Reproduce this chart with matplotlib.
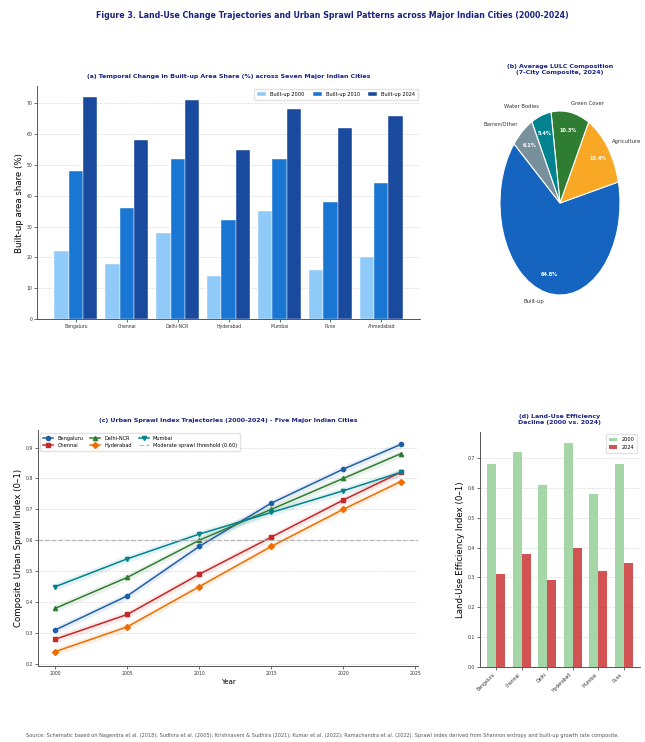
import matplotlib
matplotlib.use("Agg")
import matplotlib.pyplot as plt
import numpy as np

plt.rcParams['font.family'] = ['DejaVu Sans']
plt.rcParams['axes.unicode_minus'] = False

# ---- data -------------------------------------------------------------
cities_a = ['Bengaluru', 'Chennai', 'Delhi-NCR', 'Hyderabad', 'Mumbai', 'Pune', 'Ahmedabad']
builtup_2000 = [22, 18, 28, 14, 35, 16, 20]
builtup_2010 = [48, 36, 52, 32, 52, 38, 44]
builtup_2024 = [72, 58, 71, 55, 68, 62, 66]

lulc_classes = ['Built-up', 'Agriculture', 'Green Cover', 'Water Bodies', 'Barren/Other']
lulc_share = [64.8, 13.4, 10.3, 5.4, 6.1]

years = [2000, 2005, 2010, 2015, 2020, 2024]
sprawl_bengaluru = [0.31, 0.42, 0.58, 0.72, 0.83, 0.91]
sprawl_chennai = [0.28, 0.36, 0.49, 0.61, 0.73, 0.82]
sprawl_delhi = [0.38, 0.48, 0.60, 0.70, 0.80, 0.88]
sprawl_hyderabad = [0.24, 0.32, 0.45, 0.58, 0.70, 0.79]
sprawl_mumbai = [0.45, 0.54, 0.62, 0.69, 0.76, 0.82]
sprawl_threshold = 0.60

cities_d = ['Bengaluru', 'Chennai', 'Delhi', 'Hyderabad', 'Mumbai', 'Pune']
efficiency_2000 = [0.68, 0.72, 0.61, 0.75, 0.58, 0.68]
efficiency_2024 = [0.31, 0.38, 0.29, 0.40, 0.32, 0.35]

# ---- style ------------------------------------------------------------
NAVY = '#1A237E'
TICK = 3.3
TITLE = 4.5
LEG = 3.6

fig = plt.figure(figsize=(6.45, 7.42), dpi=100)
fig.suptitle('Figure 3. Land-Use Change Trajectories and Urban Sprawl Patterns across Major Indian Cities (2000-2024)',
             fontsize=5.7, fontweight='bold', color=NAVY, x=0.515, y=0.985)


def style_axes(ax):
    for s in ('top', 'right'):
        ax.spines[s].set_visible(False)
    for s in ('left', 'bottom'):
        ax.spines[s].set_color('#555555')
        ax.spines[s].set_linewidth(0.7)
    ax.tick_params(labelsize=TICK, length=2, width=0.5, colors='#333333', pad=1.5)
    ax.yaxis.grid(True, linestyle='--', linewidth=0.5, color='#CCCCCC', alpha=0.7)
    ax.set_axisbelow(True)


# ---- (a) built-up share bars -----------------------------------------
ax_a = fig.add_axes([0.0574, 0.570, 0.594, 0.314])
x = np.arange(len(cities_a))
w = 0.28
bar_cols = ['#90CAF9', '#1976D2', '#1A4A9E']
ax_a.bar(x - w, builtup_2000, w, color=bar_cols[0], edgecolor='white', linewidth=0.3, label='Built-up 2000')
ax_a.bar(x, builtup_2010, w, color=bar_cols[1], edgecolor='white', linewidth=0.3, label='Built-up 2010')
ax_a.bar(x + w, builtup_2024, w, color=bar_cols[2], edgecolor='white', linewidth=0.3, label='Built-up 2024')
ax_a.set_xticks(x)
ax_a.set_xticklabels(cities_a)
ax_a.set_yticks(np.arange(0, 71, 10))
ax_a.set_ylabel('Built-up area share (%)', fontsize=6.2, labelpad=2)
ax_a.set_title('(a) Temporal Change in Built-up Area Share (%) across Seven Major Indian Cities',
               fontsize=TITLE, fontweight='bold', color=NAVY, pad=6)
style_axes(ax_a)
ax_a.legend(loc='upper right', ncol=3, fontsize=LEG, frameon=True, framealpha=0.8,
            edgecolor='#DDDDDD', handlelength=1.8, columnspacing=1.6, borderpad=0.6)

# ---- (b) LULC composition pie ----------------------------------------
ax_b = fig.add_axes([0.7519, 0.5714, 0.2326, 0.3100])
pie_cols = ['#1565C0', '#F9A825', '#2E7D32', '#00838F', '#78909C']
wedges, texts, autotexts = ax_b.pie(
    lulc_share, labels=lulc_classes, colors=pie_cols, startangle=140,
    autopct='%1.1f%%', pctdistance=0.8, labeldistance=1.1,
    wedgeprops=dict(edgecolor='white', linewidth=0.8),
    textprops=dict(fontsize=3.8, color='#333333'))
for t in autotexts:
    t.set_color('white')
    t.set_fontweight('bold')
    t.set_fontsize(3.6)
ax_b.set_aspect('auto')
ax_b.set_title('(b) Average LULC Composition\n(7-City Composite, 2024)',
               fontsize=TITLE, fontweight='bold', color=NAVY, pad=10, linespacing=1.25)

# ---- (c) sprawl index trajectories -----------------------------------
ax_c = fig.add_axes([0.0589, 0.1024, 0.589, 0.318])
series = [
    ('Bengaluru', sprawl_bengaluru, '#1F5FA8', 'o'),
    ('Chennai', sprawl_chennai, '#C62828', 's'),
    ('Delhi-NCR', sprawl_delhi, '#2E7D32', '^'),
    ('Hyderabad', sprawl_hyderabad, '#EF6C00', 'D'),
    ('Mumbai', sprawl_mumbai, '#00838F', 'v'),
]
for name, vals, col, mk in series:
    vals = np.asarray(vals)
    ax_c.fill_between(years, vals - 0.012, vals + 0.012, color=col, alpha=0.1, linewidth=0)
    ax_c.plot(years, vals, color=col, marker=mk, markersize=3, linewidth=1.1, label=name)
ax_c.axhline(sprawl_threshold, color='#AAAAAA', linestyle='--', linewidth=0.9, alpha=0.8,
             label='Moderate sprawl threshold (0.60)')
ax_c.set_xticks(np.arange(2000, 2026, 5))
ax_c.set_xlabel('Year', fontsize=5.0, labelpad=2)
ax_c.set_ylabel('Composite Urban Sprawl Index (0\u20131)', fontsize=6.2, labelpad=2)
ax_c.set_title('(c) Urban Sprawl Index Trajectories (2000-2024) - Five Major Indian Cities',
               fontsize=TITLE, fontweight='bold', color=NAVY, pad=6)
style_axes(ax_c)
ax_c.legend(loc='upper left', ncol=3, fontsize=LEG, frameon=True, framealpha=0.8,
            edgecolor='#DDDDDD', handlelength=2.0, columnspacing=1.4, borderpad=0.6)

# ---- (d) land-use efficiency -----------------------------------------
ax_d = fig.add_axes([0.744, 0.1011, 0.248, 0.3167])
xd = np.arange(len(cities_d))
wd = 0.35
ax_d.bar(xd - wd / 2, efficiency_2000, wd, color='#A5D6A7', label='2000')
ax_d.bar(xd + wd / 2, efficiency_2024, wd, color='#C62828', alpha=0.8, label='2024')
ax_d.set_xticks(xd)
ax_d.set_xticklabels(cities_d, rotation=45, ha='right')
ax_d.set_yticks(np.arange(0, 0.71, 0.1))
ax_d.set_ylabel('Land-Use Efficiency Index (0\u20131)', fontsize=6.2, labelpad=2)
ax_d.set_title('(d) Land-Use Efficiency\nDecline (2000 vs. 2024)',
               fontsize=TITLE, fontweight='bold', color=NAVY, pad=6, linespacing=1.2)
style_axes(ax_d)
ax_d.legend(loc='upper right', fontsize=LEG, frameon=True, framealpha=0.8,
            edgecolor='#DDDDDD', handlelength=1.6, borderpad=0.6)

# ---- source note ------------------------------------------------------
fig.text(0.5, 0.006,
         'Source: Schematic based on Nagendra et al. (2018); Sudhira et al. (2005); Krishnaveni & Sudhira (2021); '
         'Kumar et al. (2022); Ramachandra et al. (2022). Sprawl index derived from Shannon entropy and built-up growth rate composite.',
         ha='center', va='bottom', fontsize=3.6, color='#555555')

fig.savefig('out.png', dpi=100)
